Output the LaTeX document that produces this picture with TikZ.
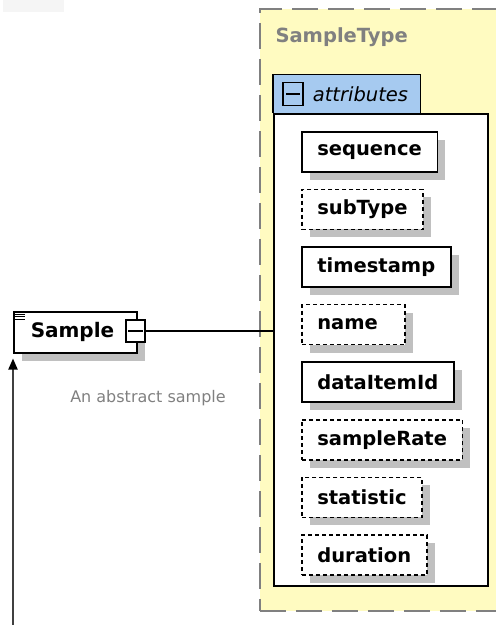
\documentclass[tikz,border=0pt]{standalone}
\usepackage{fontspec}
\setmainfont{DejaVu Sans}
\usetikzlibrary{positioning, shadows, arrows.meta}
\definecolor{typefill}{RGB}{255,251,193}
\definecolor{tabfill}{RGB}{166,202,240}
\definecolor{docgray}{RGB}{128,128,128}
\definecolor{shadowgray}{RGB}{192,192,192}
\tikzset{
  x=1pt, y=-1pt, % one unit is one pixel, y grows downward
  boxshadow/.style={drop shadow={shadow xshift=8pt, shadow yshift=-8pt, fill=shadowgray, opacity=1}},
  attr/.style={draw, line width=1.6pt, fill=white, boxshadow, minimum height=40pt, inner xsep=15.5pt, inner ysep=0pt, font=\fontsize{19.5}{23}\selectfont\bfseries}, % required attribute
  optattr/.style={attr, dash pattern=on 4pt off 3pt}, % optional attribute
  elem/.style={draw, line width=1.5pt, fill=white, boxshadow, minimum height=41pt, inner xsep=17pt, inner ysep=0pt, text width=89pt, align=left, font=\fontsize{20}{24}\selectfont\bfseries}, % global element
  btn/.style={draw, line width=1.3pt, minimum width=19pt, minimum height=22pt, inner sep=0pt}, % collapse button
  link/.style={line width=1.3pt}, % connector
  inherit/.style={line width=2pt, draw={rgb,255:red,64;green,64;blue,64}, -{Triangle[length=11pt, width=9pt, color=black]}, shorten >=5pt},
}

\begin{document}
\begin{tikzpicture}
  \useasboundingbox (0,0) rectangle (496,625);
  \clip (0,0) rectangle (496,625);
  \fill[black!4] (3,0) rectangle (64,12);

  % the complex type
  \node[draw=docgray, fill=typefill, line width=1.5pt, dash pattern=on 26pt off 10pt, minimum width=250pt, minimum height=602pt, anchor=north west] (sampletype) at (259,8) {};
  \node[anchor=west, text=docgray, font=\fontsize{19.5}{23}\selectfont\bfseries] (typename) at (272,37) {SampleType};

  % attributes group
  \node[draw, line width=1.5pt, fill=white, minimum width=214pt, minimum height=472pt, anchor=north west, inner sep=0pt] (attrs) at (273,113) {};
  \node[fill=tabfill, minimum width=147pt, minimum height=38pt, anchor=south west, inner sep=0pt] (attrtab) at (attrs.north west) {};
  \draw[line width=1.5pt] (attrtab.south west) -- (attrtab.north west) -- (attrtab.north east) -- (attrtab.south east);
  \node[btn, minimum width=20pt, minimum height=23pt] (tabbtn) at (293,94) {};
  \draw[line width=1.3pt] ([xshift=4pt]tabbtn.west) -- ([xshift=-4pt]tabbtn.east);
  \node[right=9pt of tabbtn, inner sep=0pt, font=\fontsize{19.5}{23}\selectfont\itshape] (tabname) {attributes};

  \node[attr, anchor=north west] (sequence) at (301,131) {sequence};
  \node[optattr, below=16pt of sequence.south west, anchor=north west] (subType) {subType};
  \node[attr, below=16pt of subType.south west, anchor=north west] (timestamp) {timestamp};
  \node[optattr, below=16pt of timestamp.south west, anchor=north west, text width=72pt, align=left] (name) {name};
  \node[attr, below=16pt of name.south west, anchor=north west] (dataItemId) {dataItemId};
  \node[optattr, below=16pt of dataItemId.south west, anchor=north west] (sampleRate) {sampleRate};
  \node[optattr, below=16pt of sampleRate.south west, anchor=north west] (statistic) {statistic};
  \node[optattr, below=16pt of statistic.south west, anchor=north west] (duration) {duration};

  % the element
  \node[elem, anchor=north west] (sample) at (13,311) {Sample};
  \foreach \k in {0,1,2}
    \draw[line width=1pt] ([shift={(2,3+2.5*\k)}]sample.north west) -- ++(10,0);
  \node[btn, fill=white] (samplebtn) at (135.5,331) {};
  \draw[line width=1.3pt] ([xshift=3pt]samplebtn.west) -- ([xshift=-3pt]samplebtn.east);
  \draw[link] (samplebtn.east) -- (samplebtn.east -| attrs.west);
  \node[text=docgray, font=\fontsize{16}{19}\selectfont] (sampledoc) at (148,398) {An abstract sample};

  \coordinate (base) at (13,625);
  \draw[inherit] (base) -- (sample.south west);
\end{tikzpicture}
\end{document}
